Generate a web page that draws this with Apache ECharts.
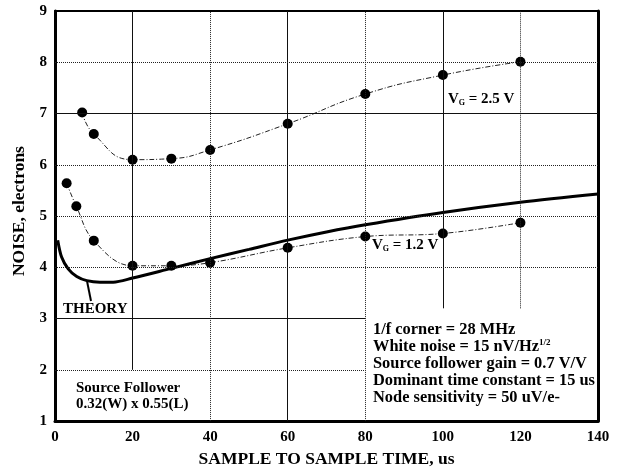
<!DOCTYPE html>
<html>
<head>
<meta charset="utf-8">
<script src="https://cdn.jsdelivr.net/npm/echarts@6/dist/echarts.min.js"></script>
<style>
  html, body { margin: 0; padding: 0; background: #fff; }
  #chart { width: 621px; height: 473px; }
</style>
</head>
<body>
<div id="chart"></div>
<script>
// Sample-to-sample time (us) and measured noise (electrons), VG = 2.5 V
var vg25Time  = [7, 10, 20, 30, 40, 60, 80, 100, 120];
var vg25Noise = [7.02, 6.6, 6.1, 6.12, 6.29, 6.8, 7.38, 7.75, 8.01];

// Measured noise, VG = 1.2 V
var vg12Time  = [3, 5.5, 10, 20, 30, 40, 60, 80, 100, 120];
var vg12Noise = [5.64, 5.19, 4.52, 4.03, 4.03, 4.09, 4.38, 4.6, 4.66, 4.87];

// Theoretical noise curve
var theoryTime  = [0.7, 1.7, 3.4, 5.6, 8.2, 11.6, 15, 20, 30, 40, 50, 60, 70, 80, 100, 120, 140];
var theoryNoise = [4.53, 4.2, 3.97, 3.82, 3.74, 3.71, 3.71, 3.79, 3.98, 4.17, 4.35, 4.53, 4.69, 4.83, 5.07, 5.27, 5.43];

// Axis ticks
var xTicks = [0, 20, 40, 60, 80, 100, 120, 140];
var yTicks = [1, 2, 3, 4, 5, 6, 7, 8, 9];

function pairs(xs, ys) {
  return xs.map(function (x, i) { return [x, ys[i]]; });
}

var FONT = '"Liberation Serif", "Times New Roman", serif';
var xMin = xTicks[0], xMax = xTicks[xTicks.length - 1];
var yMin = yTicks[0], yMax = yTicks[yTicks.length - 1];

// Grid lines: heavier solid lines every other division, fine dotted lines between.
var solidX = [20, 60, 100];
var solidY = [3, 7];
var dotted = { color: '#222', width: 1, type: [1, 1] };
var solid = { color: '#111', width: 1, type: 'solid' };
var gridSegments = [];
xTicks.slice(1, -1).forEach(function (x) {
  var y0 = yMin;
  if (x === 20) y0 = 2;            // stops above the device caption
  if (x > 80) y0 = 3.2;            // stops above the parameter list
  gridSegments.push([
    { coord: [x, y0], lineStyle: solidX.indexOf(x) >= 0 ? solid : dotted },
    { coord: [x, yMax] }
  ]);
});
yTicks.slice(1, -1).forEach(function (y) {
  var x1 = (y <= 3) ? 80 : xMax;   // parameter list occupies the lower right
  gridSegments.push([
    { coord: [xMin, y], lineStyle: solidY.indexOf(y) >= 0 ? solid : dotted },
    { coord: [x1, y] }
  ]);
});

var measuredLine = { color: '#222', width: 1, type: [5, 2, 1, 2] };

var chart = echarts.init(document.getElementById('chart'), null, { renderer: 'canvas' });

var axisLabelStyle = { fontFamily: FONT, fontWeight: 'bold', fontSize: 15, color: '#000' };
var axisNameStyle = { fontFamily: FONT, fontWeight: 'bold', fontSize: 17.5, color: '#000' };

chart.setOption({
  backgroundColor: '#fff',
  animation: false,
  grid: { left: 55, right: 23, top: 11, bottom: 50 },
  xAxis: [
    {
      type: 'value', min: xMin, max: xMax, interval: 20, position: 'bottom',
      axisLine: { onZero: false, lineStyle: { color: '#000', width: 3 } },
      axisTick: { show: false },
      splitLine: { show: false },
      axisLabel: Object.assign({ margin: 9 }, axisLabelStyle),
      name: 'SAMPLE TO SAMPLE TIME, us',
      nameLocation: 'middle', nameGap: 24,
      nameTextStyle: axisNameStyle
    },
    {
      type: 'value', min: xMin, max: xMax, position: 'top',
      axisLine: { onZero: false, lineStyle: { color: '#000', width: 2 } },
      axisTick: { show: false }, axisLabel: { show: false }, splitLine: { show: false }
    }
  ],
  yAxis: [
    {
      type: 'value', min: yMin, max: yMax, interval: 1, position: 'left',
      axisLine: { onZero: false, lineStyle: { color: '#000', width: 3 } },
      axisTick: { show: false },
      splitLine: { show: false },
      axisLabel: Object.assign({ margin: 8 }, axisLabelStyle),
      name: 'NOISE, electrons',
      nameLocation: 'middle', nameGap: 26, nameRotate: 90,
      nameTextStyle: Object.assign({ padding: [0, 0, 0, 10] }, axisNameStyle)
    },
    {
      type: 'value', min: yMin, max: yMax, position: 'right',
      axisLine: { onZero: false, lineStyle: { color: '#000', width: 3 } },
      axisTick: { show: false }, axisLabel: { show: false }, splitLine: { show: false }
    }
  ],
  series: [
    {
      name: 'grid',
      type: 'line',
      z: 1,
      silent: true,
      data: [[xMin, yMin]],
      showSymbol: false,
      lineStyle: { width: 0 },
      markLine: {
        silent: true,
        symbol: ['none', 'none'],
        label: { show: false },
        emphasis: { disabled: true },
        animation: false,
        data: gridSegments
      }
    },
    {
      name: 'VG = 2.5 V',
      type: 'line',
      z: 3,
      smooth: 0.5,
      data: pairs(vg25Time, vg25Noise),
      symbol: 'circle', symbolSize: 10,
      itemStyle: { color: '#000' },
      lineStyle: measuredLine
    },
    {
      name: 'VG = 1.2 V',
      type: 'line',
      z: 3,
      smooth: 0.4,
      data: pairs(vg12Time, vg12Noise),
      symbol: 'circle', symbolSize: 10,
      itemStyle: { color: '#000' },
      lineStyle: measuredLine
    },
    {
      name: 'THEORY',
      type: 'line',
      z: 4,
      smooth: 0.3,
      data: pairs(theoryTime, theoryNoise),
      showSymbol: false,
      lineStyle: { color: '#000', width: 3 }
    }
  ],
  graphic: [
    {
      type: 'text', x: 448, y: 99, z: 10,
      style: {
        text: '{v|V}{s|G}{v| = 2.5 V}', verticalAlign: 'middle',
        rich: {
          v: { fontFamily: FONT, fontWeight: 'bold', fontSize: 15, fill: '#000' },
          s: { fontFamily: FONT, fontWeight: 'bold', fontSize: 8, fill: '#000', verticalAlign: 'bottom', padding: [6, 0, 0, 0] }
        }
      }
    },
    {
      type: 'text', x: 372, y: 245, z: 10,
      style: {
        text: '{v|V}{s|G}{v| = 1.2 V}', verticalAlign: 'middle',
        rich: {
          v: { fontFamily: FONT, fontWeight: 'bold', fontSize: 15, fill: '#000' },
          s: { fontFamily: FONT, fontWeight: 'bold', fontSize: 8, fill: '#000', verticalAlign: 'bottom', padding: [6, 0, 0, 0] }
        }
      }
    },
    {
      type: 'text', x: 63, y: 309, z: 10,
      style: { text: 'THEORY', font: 'bold 15px ' + FONT, fill: '#000', verticalAlign: 'middle' }
    },
    {
      type: 'line', z: 10,
      shape: { x1: 87, y1: 281, x2: 91, y2: 301 },
      style: { stroke: '#000', lineWidth: 2 }
    },
    {
      type: 'text', x: 76, y: 380, z: 10,
      style: {
        text: 'Source Follower\n0.32(W) x 0.55(L)',
        font: 'bold 15px ' + FONT, fill: '#000', lineHeight: 16, verticalAlign: 'top'
      }
    },
    {
      type: 'text', x: 373, y: 321, z: 10,
      style: {
        text: '{t|1/f corner = 28 MHz}\n{t|White noise = 15 nV/Hz}{p|1/2}\n{t|Source follower gain = 0.7 V/V}\n{t|Dominant time constant = 15 us}\n{t|Node sensitivity = 50 uV/e-}',
        verticalAlign: 'top',
        rich: {
          t: { fontFamily: FONT, fontWeight: 'bold', fontSize: 16.4, fill: '#000', lineHeight: 17 },
          p: { fontFamily: FONT, fontWeight: 'bold', fontSize: 9, fill: '#000', lineHeight: 17, verticalAlign: 'top', padding: [0, 0, 8, 0] }
        }
      }
    }
  ]
});
</script>
</body>
</html>
